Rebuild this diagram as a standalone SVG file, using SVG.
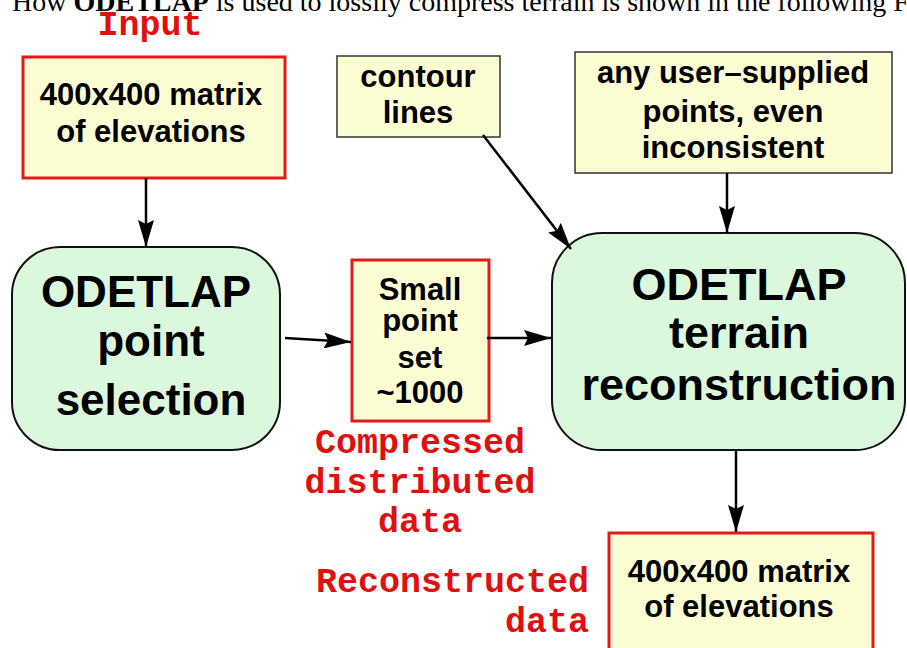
<svg xmlns="http://www.w3.org/2000/svg" width="907" height="648" viewBox="0 0 907 648">
<defs>
<marker id="ah" markerUnits="userSpaceOnUse" markerWidth="28" markerHeight="16" refX="27" refY="8" orient="auto">
<path d="M0,0 L27,8 L0,16 L4,8 z" fill="#000"/>
</marker>
</defs>
<style>
.yb{fill:#fdfdd4;stroke:#333;stroke-width:1.5}
.rb{fill:#fdfdd4;stroke:#e41a1a;stroke-width:3}
.gb{fill:#dcf8dc;stroke:#111;stroke-width:2}
.t{font-family:"Liberation Sans",Arial,sans-serif;font-weight:bold;fill:#000;text-anchor:middle}
.s{font-size:31px}
.b{font-size:45px}
.r{font-family:"Liberation Mono","Courier New",monospace;font-weight:bold;fill:#e01010;font-size:35px}
.c{stroke:#000;stroke-width:2.5;fill:none;marker-end:url(#ah)}
</style>
<rect width="907" height="648" fill="#fff"/>
<text x="12" y="11" font-family="Liberation Serif,'Times New Roman',serif" font-size="28" fill="#000">How <tspan font-weight="bold">ODETLAP</tspan> is used to lossily compress terrain is shown in the following Figure</text>

<text class="r" x="150" y="35" text-anchor="middle">Input</text>

<g id="input">
<rect class="rb" x="23" y="57" width="262" height="121"/>
<text class="t s" x="151" y="105">400x400 matrix</text>
<text class="t s" x="151" y="142">of elevations</text>
</g>

<g id="selection">
<rect class="gb" x="12" y="247" width="268" height="203" rx="48" ry="48"/>
<text class="t" font-size="44" x="146" y="307">ODETLAP</text>
<text class="t" font-size="44" x="151" y="356">point</text>
<text class="t" font-size="44" x="151" y="415">selection</text>
</g>

<g id="small">
<rect class="rb" x="352" y="260" width="137" height="161"/>
<text class="t s" x="420" y="300">Small</text>
<text class="t s" x="420" y="331">point</text>
<text class="t s" x="420" y="368">set</text>
<text class="t s" x="420" y="403">~1000</text>
</g>

<g id="contour">
<rect class="yb" x="337" y="56" width="163" height="81"/>
<text class="t s" x="418" y="87">contour</text>
<text class="t s" x="418" y="123">lines</text>
</g>

<g id="user">
<rect class="yb" x="575" y="52" width="317" height="121"/>
<text class="t s" x="733" y="83">any user–supplied</text>
<text class="t s" x="733" y="122">points, even</text>
<text class="t s" x="733" y="158">inconsistent</text>
</g>

<g id="reconstruction">
<rect class="gb" x="552" y="233" width="353" height="217" rx="50" ry="50"/>
<text class="t b" x="739" y="300">ODETLAP</text>
<text class="t b" x="739" y="348">terrain</text>
<text class="t b" x="739" y="400">reconstruction</text>
</g>

<g id="output">
<rect class="rb" x="609" y="533" width="264" height="130"/>
<text class="t s" x="739" y="582">400x400 matrix</text>
<text class="t s" x="739" y="617">of elevations</text>
</g>

<g id="labels">
<text class="r" x="420" y="453" text-anchor="middle">Compressed</text>
<text class="r" x="420" y="493" text-anchor="middle">distributed</text>
<text class="r" x="420" y="532" text-anchor="middle">data</text>
<text class="r" x="589" y="592" text-anchor="end">Reconstructed</text>
<text class="r" x="589" y="632" text-anchor="end">data</text>
</g>

<g id="connectors">
<line class="c" x1="146" y1="178" x2="146" y2="247"/>
<line class="c" x1="285" y1="338" x2="351" y2="342"/>
<line class="c" x1="487" y1="338" x2="551" y2="338"/>
<line class="c" x1="483" y1="135" x2="571" y2="249"/>
<line class="c" x1="727" y1="173" x2="727" y2="233"/>
<line class="c" x1="736" y1="450" x2="736" y2="532"/>
</g>
</svg>
